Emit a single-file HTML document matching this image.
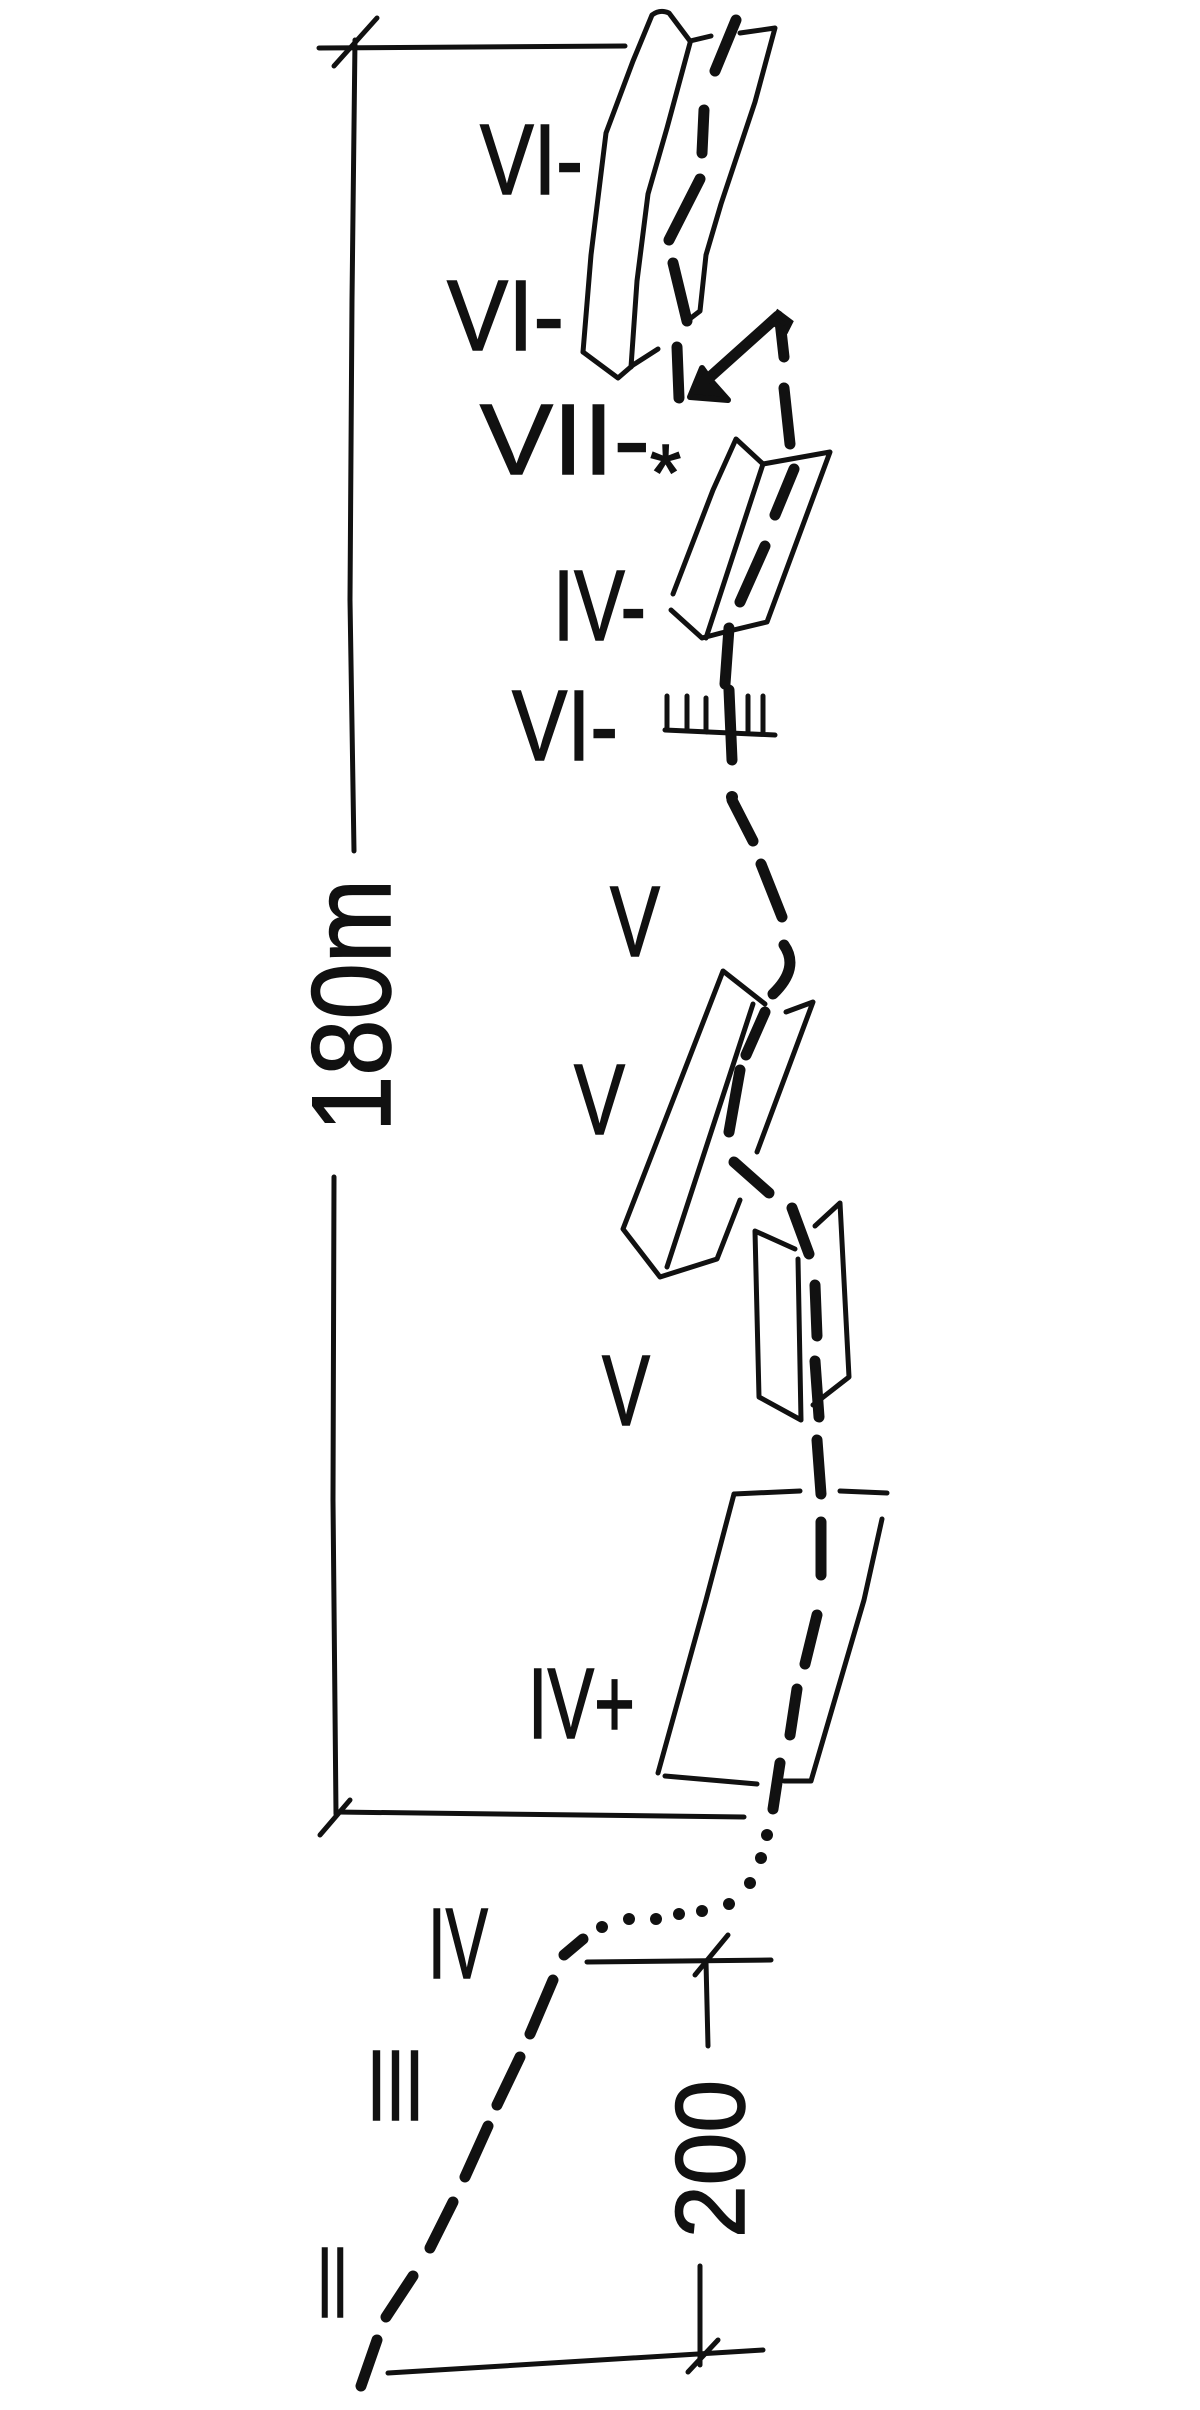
<!DOCTYPE html>
<html><head><meta charset="utf-8"><style>html,body{margin:0;padding:0;background:#fff}svg{display:block}</style></head>
<body>
<svg width="1200" height="2410" viewBox="0 0 1200 2410" xmlns="http://www.w3.org/2000/svg">
<g fill="none" stroke="#111" stroke-width="5" stroke-linecap="round" stroke-linejoin="round">
 <!-- dimension 180m -->
 <line x1="319" y1="48" x2="625" y2="46"/>
 <line x1="334" y1="66" x2="377" y2="18"/>
 <path d="M355,40 L352,300 L350,600 L354,851"/>
 <path d="M334,1177 L333,1500 L336,1814"/>
 <line x1="336" y1="1812" x2="744" y2="1817"/>
 <line x1="320" y1="1835" x2="350" y2="1800"/>
 <!-- dimension 200 -->
 <line x1="587" y1="1962" x2="771" y2="1960"/>
 <line x1="695" y1="1975" x2="728" y2="1935"/>
 <line x1="706" y1="1962" x2="708" y2="2046"/>
 <line x1="700" y1="2266" x2="700" y2="2365"/>
 <line x1="388" y1="2373" x2="763" y2="2350"/>
 <line x1="688" y1="2372" x2="718" y2="2340"/>
 <!-- top slab -->
 <path d="M583,352 L591,255 L606,133 L633,61 L652,15 Q660,9 669,13 L690,41 L711,36"/>
 <path d="M690,43 L667,128 L648,194 L637,281 L631,367"/>
 <path d="M583,352 L618,378 L633,365 L658,349"/>
 <path d="M740,33 L775,28 L755,102 L721,204 L706,255 L700,311 L687,321"/>
 <!-- IV- slab -->
 <path d="M673,594 L713,490 L736,439 L763,464 L830,452 L767,622 L721,633 L702,638 L671,610"/>
 <path d="M763,464 L706,638"/>
 <!-- comb -->
 <path d="M665,730 L775,735 M667,730 L667,696 M687,731 L687,696 M706,732 L706,698 M748,733 L748,696 M763,734 L763,696"/>
 <!-- V slab -->
 <path d="M740,1200 L717,1259 L660,1277 L623,1229 L723,971 L765,1004"/>
 <path d="M753,1004 L667,1267"/>
 <path d="M786,1012 L813,1002 L757,1152"/>
 <!-- small V slab -->
 <path d="M795,1249 L755,1231 L759,1397 L801,1420 L798,1259"/>
 <path d="M815,1226 L840,1203 L849,1377 L813,1405"/>
 <!-- IV+ box -->
 <path d="M734,1494 L800,1491 M840,1491 L887,1493"/>
 <path d="M734,1494 L706,1600 L658,1773"/>
 <path d="M665,1776 L757,1784"/>
 <path d="M882,1519 L864,1600 L811,1781 L784,1781"/>
</g>
<!-- route -->
<g fill="none" stroke="#111" stroke-width="11" stroke-linecap="round" stroke-linejoin="round">
 <path d="M736,20 L715,71 M704,110 L702,153 M700,179 L669,240 M673,263 L687,321 M677,347 L679,398"/>
 <path d="M778,316 L700,386"/>
 <path d="M780,321 L784,357 M784,388 L790,444"/>
 <path d="M794,469 L775,515 M765,546 L740,602 M729,628 L725,684"/>
 <path d="M729,690 L732,760"/>
 <path d="M732,800 L753,841 M761,864 L782,917 M784,945 Q800,968 773,994 M765,1012 L746,1055 M740,1070 L729,1132 M734,1162 L769,1193 M792,1208 L809,1254 M815,1285 L817,1336 M815,1361 L819,1417 M817,1440 L821,1494 M821,1522 L821,1575"/>
 <path d="M817,1615 L805,1664 M797,1689 L790,1735 M780,1763 L773,1809"/>
 <path d="M583,1939 L564,1955 M553,1980 L530,2034 M520,2057 L497,2105 M488,2126 L465,2177 M453,2202 L430,2248 M413,2276 L386,2317 M377,2340 L361,2386"/>
</g>
<path d="M690,397 L702,368 L712,382 L728,400 Z" fill="#111" stroke="#111" stroke-width="6" stroke-linejoin="round"/>
<path d="M778,313 L790,322 L786,330 L772,322 Z" fill="#111" stroke="#111" stroke-width="6"/>
<g fill="#111">
 <circle cx="732" cy="797" r="6"/>
 <circle cx="767" cy="1835" r="6"/><circle cx="761" cy="1858" r="6"/><circle cx="750" cy="1883" r="6"/>
 <circle cx="729" cy="1904" r="6"/><circle cx="702" cy="1911" r="6"/><circle cx="679" cy="1914" r="6"/>
 <circle cx="656" cy="1919" r="6"/><circle cx="629" cy="1919" r="6"/><circle cx="602" cy="1927" r="6"/>
</g>
<g font-family="Liberation Sans, sans-serif" fill="#111" stroke="#111" stroke-width="1.5" font-size="100">
 <text x="480" y="194" textLength="103" lengthAdjust="spacingAndGlyphs">VI-</text>
 <text x="447" y="350" textLength="117" lengthAdjust="spacingAndGlyphs">VI-</text>
 <text x="480" y="474" textLength="170" lengthAdjust="spacingAndGlyphs">VII-</text>
 <text x="650" y="500" font-size="80">*</text>
 <text x="553" y="640" textLength="93" lengthAdjust="spacingAndGlyphs">IV-</text>
 <text x="512" y="760" textLength="106" lengthAdjust="spacingAndGlyphs">VI-</text>
 <text x="610" y="956" textLength="50" lengthAdjust="spacingAndGlyphs">V</text>
 <text x="574" y="1134" textLength="51" lengthAdjust="spacingAndGlyphs">V</text>
 <text x="602" y="1425" textLength="48" lengthAdjust="spacingAndGlyphs">V</text>
 <text x="528" y="1738" textLength="107" lengthAdjust="spacingAndGlyphs">IV+</text>
 <text x="428" y="1978" textLength="60" lengthAdjust="spacingAndGlyphs">IV</text>
 <text x="367" y="2120" textLength="57" lengthAdjust="spacingAndGlyphs">III</text>
 <text x="317" y="2317" textLength="31" lengthAdjust="spacingAndGlyphs">II</text>
 <text x="0" y="0" font-size="112" transform="translate(390,1132) rotate(-90)" textLength="253" lengthAdjust="spacingAndGlyphs">180m</text>
 <text x="0" y="0" font-size="98" transform="translate(744,2238) rotate(-90)" textLength="158" lengthAdjust="spacingAndGlyphs">200</text>
</g>
</svg>
</body></html>
